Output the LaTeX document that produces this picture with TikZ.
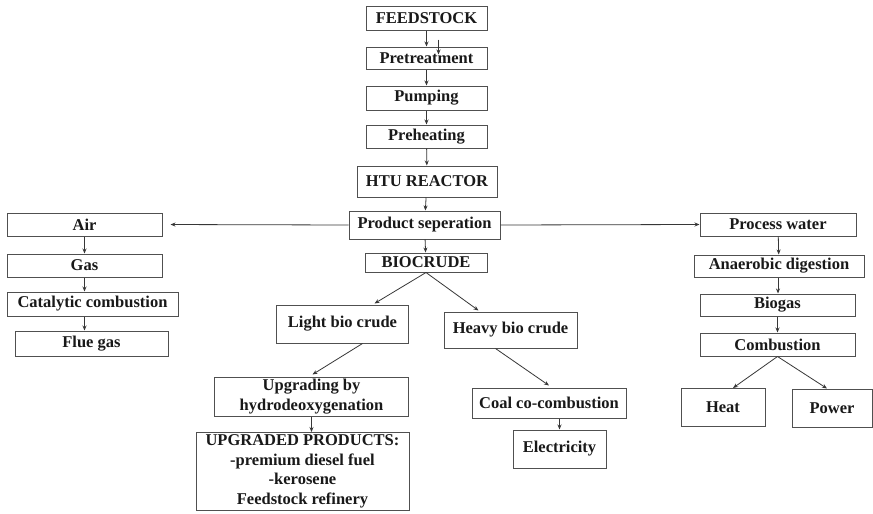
\documentclass[tikz,border=0pt]{standalone}
\usepackage{fontspec}
\setmainfont{Liberation Serif}
\usetikzlibrary{arrows.meta}
\definecolor{edge}{RGB}{80,80,80}
\definecolor{arrc}{RGB}{55,55,55}
\definecolor{ink}{RGB}{25,25,25}
\tikzset{
  box/.style={draw=edge, line width=1pt, rectangle, inner sep=0pt, align=center,
    text=ink, font=\fontsize{16.5}{19.5}\selectfont\bfseries},
  arr/.style={draw=arrc, line width=0.8pt, -{Stealth[length=5pt,width=4pt]}}
}
\newcommand{\bx}[5]{\node[box, minimum width=#3pt, minimum height=#4pt] (#1) at #2 {#5};}
\begin{document}
\begin{tikzpicture}[x=1pt,y=-1pt]
\useasboundingbox[fill=white] (0,0) rectangle (873,514);
\bx{feed}{(426.5,18)}{121}{24}{FEEDSTOCK}
\bx{pre}{(426.5,58)}{121}{22}{Pretreatment}
\bx{pump}{(426.5,98)}{121}{24}{Pumping}
\bx{preh}{(426.5,136.5)}{121}{23}{Preheating}
\bx{htu}{(427,181.5)}{140}{31}{HTU REACTOR}
\bx{psep}{(424.5,225)}{151}{28}{Product seperation}
\bx{bio}{(426,262.5)}{122}{19}{BIOCRUDE}
\bx{air}{(84.5,224.5)}{155}{23}{Air}
\bx{gas}{(84.5,265.5)}{155}{23}{Gas}
\bx{cat}{(92.5,304)}{171}{24}{Catalytic combustion}
\bx{flue}{(91.5,343.5)}{153}{25}{Flue gas}
\bx{pw}{(778,224.5)}{156}{23}{Process water}
\bx{ana}{(779,266)}{170}{22}{Anaerobic digestion}
\bx{biogas}{(777.5,305)}{155}{22}{Biogas}
\bx{comb}{(777.5,344.5)}{155}{23}{Combustion}
\bx{heat}{(723,407.5)}{84}{38}{Heat}
\bx{power}{(832,408)}{80}{38}{Power}
\bx{light}{(342.5,324)}{132}{38}{Light bio crude}
\bx{heavy}{(510.5,330)}{133}{36}{Heavy bio crude}
\bx{upg}{(311.5,396.5)}{194}{39}{Upgrading by\\hydrodeoxygenation}
\bx{upr}{(302.5,471.5)}{213}{78}{\raisebox{-3pt}{\parbox{213pt}{\centering UPGRADED PRODUCTS:\\-premium diesel fuel\\-kerosene\\Feedstock refinery}}}
\bx{coal}{(549,403)}{154}{30}{Coal co-combustion}
\bx{elec}{(559.5,449)}{93}{38}{Electricity}
% main column
\draw[arr] (feed) -- (pre);
\draw[arr] ([xshift=12pt,yshift=7pt]pre.north) -- ([xshift=12pt,yshift=-8pt]pre.north);
\draw[arr] (pre) -- (pump);
\draw[arr] (pump) -- (preh);
\draw[arr] (preh) -- (htu);
\draw[arr] (htu) -- (psep);
\draw[arr] (psep) -- (bio);
\draw[arr, shorten >=8pt] (psep.west) -- (air.east);
\draw[arr] (psep.east) -- (pw.west);
% left column
\draw[arr] (air) -- (gas);
\draw[arr] (gas.south) -- (gas.south |- cat.north);
\draw[arr] (gas.south |- cat.south) -- (gas.south |- flue.north);
% right column
\draw[arr] (pw) -- (ana);
\draw[arr] (pw.south |- ana.south) -- (pw.south |- biogas.north);
\draw[arr] (biogas) -- (comb);
\draw[arr] (comb.south) -- ([xshift=10pt]heat.north);
\draw[arr] (comb.south) -- ([xshift=-5pt]power.north);
% biocrude branches
\draw[arr] (bio.south) -- ([xshift=32pt,yshift=1pt]light.north);
\draw[arr] (bio.south) -- ([xshift=-32pt,yshift=1pt]heavy.north);
\draw[arr] ([xshift=20pt]light.south) -- ([xshift=1pt,yshift=2pt]upg.north);
\draw[arr] (upg.south) -- (upg.south |- upr.north);
\draw[arr] ([xshift=-15pt]heavy.south) -- ([yshift=2pt]coal.north);
\draw[arr] (coal.south -| elec.north) -- (elec.north);
\end{tikzpicture}
\end{document}
